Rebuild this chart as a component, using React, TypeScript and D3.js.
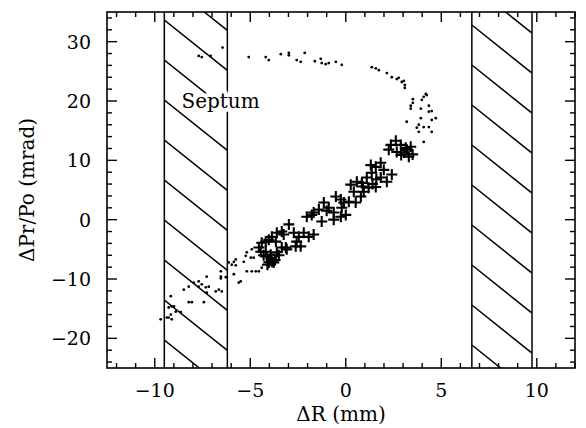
import React from 'react';
import * as d3 from 'd3';

const W = 586;
const H = 428;

// axis extents and ticks
const xDomain = [-12.5, 12];
const yDomain = [-25, 35];
const xMajor = [-10, -5, 0, 5, 10];
const yMajor = [-20, -10, 0, 10, 20, 30];

// septum / aperture limits (mm)
const bands = [
  [-9.5, -6.2],
  [6.6, 9.75],
];

// small dots (ΔR mm, ΔPr/Po mrad)
const dotX = [
  -7.7, -7.54, -7.07, -6.45, -5.08, -4.19, -4.03, -3.4, -2.98, -2.57, -2.36, -2.15, -1.62, -1.31, -1.26, -1.05, -0.89, -0.52, -0.21,
  -2.98, 1.36, 1.57, 1.73, 2.15, 2.41, 2.67, 2.77, 2.93, 3.04, 3.09, 3.09,
  3.51, 4.08, 4.19, 3.4, 3.51, 3.4, 3.98, 4.24, 3.93, 4.35, 4.5, 4.71, 3.19, 3.93, 3.82, 4.08, 4.35, 4.5, 3.72, 4.5, 3.82, 4.08, 4.35,
  -4.92, -5.18, -4.97, -5.34, -5.76, -5.97, -5.86, -5.6, -5.18, -4.92, -4.55, -6.28, -6.54, -6.54, -5.76, -5.24, -4.82, -5.5,
  -6.54, -6.65, -6.49, -6.81, -7.28, -7.17, -7.54, -7.7, -7.96, -8.22, -8.48, -7.28, -7.43, -8.22, -8.06, -9.16, -9.11, -8.9,
  -8.64, -9.16, -9.27, -9.69, -9.11, -9.37, -9.27, -9.0, -7.7, -7.33, -6.13, -5.86, -4.71, -4.4,
];
const dotY = [
  27.6, 27.4, 27.6, 29.0, 27.4, 27.4, 26.9, 27.9, 27.7, 26.9, 26.6, 28.1, 26.7, 27.1, 26.4, 26.2, 26.4, 26.6, 26.1,
  28.1, 25.7, 25.5, 25.2, 24.7, 24.0, 23.7, 23.9, 23.2, 23.4, 22.7, 22.2,
  20.3, 20.7, 21.2, 19.2, 19.7, 18.7, 20.2, 21.0, 18.7, 19.2, 18.3, 17.1, 16.5, 17.1, 16.0, 15.6, 15.6, 16.8, 15.5, 14.8, 14.8, 13.1, 18.2,
  -5.0, -5.5, -6.4, -7.1, -6.7, -7.6, -9.2, -10.6, -8.7, -8.7, -8.7, -9.7, -9.6, -8.7, -7.7, -6.1, -6.4, -10.4,
  -9.9, -11.8, -12.1, -12.1, -9.6, -11.3, -10.9, -10.4, -10.6, -11.3, -11.8, -12.3, -13.9, -13.9, -13.9, -12.9, -14.6, -15.5,
  -15.6, -16.0, -16.5, -16.8, -16.8, -16.5, -14.8, -14.6, -11.3, -11.4, -7.2, -7.1, -8.7, -8.1,
];

// crosses
const crossX = [
  2.36, 2.62, 2.88, 3.14, 3.4, 2.67, 3.04, 3.3, 2.25, 1.83, 1.57, 1.31, 1.99, 1.36, 1.1, 0.84, 2.41, 2.15, 1.83, 1.57, 1.2, 0.94,
  0.58, 0.26, 0.42, 0.79, -0.26, -0.52, 0.16, 0.52, -0.21, -1.15, -1.41, -0.89, -1.68, -0.63, -0.26, -1.78, -2.04, -0.1, 0.0,
  -1.26, -0.63, -2.98, -3.35, -3.61, -3.87, -2.72, -2.46, -2.2, -1.94, -1.68, -2.57, -2.36, -3.09, -3.35, -3.66, -4.03, -4.4,
  -4.55, -4.19, -3.93, -3.87, -4.14, -3.61, -3.77, -4.03, -4.19, -4.45, -3.25, -3.14, -2.62,
  -3.9, -4.1, -3.7, -4.3, -3.5, 3.2, 2.9, 3.5, 1.6, 1.4, 0.9, -1.0,
];
const crossY = [
  12.6, 13.3, 12.6, 12.1, 12.3, 11.4, 11.3, 10.6, 11.8, 9.6, 8.9, 9.2, 8.4, 7.9, 7.1, 6.2, 7.6, 6.4, 7.1, 5.5, 5.4, 4.7,
  6.4, 5.9, 4.7, 3.9, 3.4, 3.9, 3.0, 2.9, 2.0, 2.9, 1.7, 2.0, 1.2, 1.2, 0.5, 0.8, 0.5, 2.9, 0.8,
  -0.3, 0.0, -0.8, -2.0, -2.2, -2.9, -2.2, -2.9, -2.2, -2.9, -2.5, -3.7, -4.5, -5.0, -4.7, -3.7, -3.4, -3.9,
  -4.7, -5.4, -5.9, -7.1, -6.2, -5.5, -7.2, -7.2, -3.7, -5.4, -2.5, -4.7, -4.5,
  -6.5, -7.6, -6.8, -6.0, -6.0, 11.8, 10.9, 11.0, 6.8, 6.0, 5.6, 1.5,
];

const septumLabel = { x: -8.6, y: 18.8, text: 'Septum' };

const font = '"DejaVu Serif", "Liberation Serif", serif';
const fmt = (d: number) => (d < 0 ? '\u2212' : '') + Math.abs(d);

export default function App() {
  const m = { left: 107, right: 11, top: 12, bottom: 60 };
  const x = d3.scaleLinear().domain(xDomain).range([m.left, W - m.right]);
  const y = d3.scaleLinear().domain(yDomain).range([H - m.bottom, m.top]);
  const [x0, x1] = x.range();
  const [y0, y1] = [y.range()[1], y.range()[0]];

  const xMinor = d3.range(Math.ceil(xDomain[0]), xDomain[1] + 0.001, 1).filter(v => !xMajor.includes(v));
  const yMinor = d3.range(-24, 35, 2).filter(v => !yMajor.includes(v));

  // hatch lines, slope and spacing in px
  const slope = 0.8;
  const gap = 40;
  const hatch = (b: number[], offs: number) => {
    const bl = x(b[0]);
    const br = x(b[1]);
    const lines = [];
    for (let c = offs - gap * 2; c < y1 + gap; c += gap) {
      lines.push([bl, c, br, c + slope * (br - bl)]);
    }
    return { bl, br, lines };
  };
  const hatches = [hatch(bands[0], 20), hatch(bands[1], 25)];

  const MAJ = 10;
  const MIN = 5;

  return (
    <svg width={W} height={H} style={{ position: 'absolute', left: 0, top: 0, background: '#fff' }}
      fontFamily={font}>
      <defs>
        <clipPath id="plot">
          <rect x={x0} y={y0} width={x1 - x0} height={y1 - y0} />
        </clipPath>
      </defs>

      {/* hatched septum bands */}
      {hatches.map((h, i) => (
        <g key={i} stroke="#000" fill="none">
          <clipPath id={`band${i}`}>
            <rect x={h.bl} y={y0} width={h.br - h.bl} height={y1 - y0} />
          </clipPath>
          <g clipPath={`url(#band${i})`} strokeWidth={1.5}>
            {h.lines.map((l, j) => (
              <line key={j} x1={l[0]} y1={l[1]} x2={l[2]} y2={l[3]} />
            ))}
          </g>
          <line x1={h.bl} x2={h.bl} y1={y0} y2={y1} strokeWidth={1.5} />
          <line x1={h.br} x2={h.br} y1={y0} y2={y1} strokeWidth={1.5} />
        </g>
      ))}

      <text x={x(septumLabel.x)} y={y(septumLabel.y)} fontSize={20} fill="#000"
        stroke="#fff" strokeWidth={8} paintOrder="stroke" strokeLinejoin="round">
        {septumLabel.text}
      </text>

      {/* data */}
      <g clipPath="url(#plot)">
        {dotX.map((d, i) => (
          <circle key={i} cx={x(d)} cy={y(dotY[i])} r={1.4} fill="#000" />
        ))}
        <g stroke="#000" strokeWidth={2.1}>
          {crossX.map((d, i) => {
            const cx = x(d);
            const cy = y(crossY[i]);
            return (
              <path key={i} d={`M${cx - 5.5},${cy}H${cx + 5.5}M${cx},${cy - 5.5}V${cy + 5.5}`} />
            );
          })}
        </g>
      </g>

      {/* frame and ticks */}
      <rect x={x0} y={y0} width={x1 - x0} height={y1 - y0} fill="none" stroke="#000" strokeWidth={1.6} />
      <g stroke="#000" strokeWidth={1.4}>
        {xMajor.map(v => (
          <g key={'xm' + v}>
            <line x1={x(v)} x2={x(v)} y1={y1} y2={y1 - MAJ} />
            <line x1={x(v)} x2={x(v)} y1={y0} y2={y0 + MAJ} />
          </g>
        ))}
        {xMinor.map(v => (
          <g key={'xn' + v}>
            <line x1={x(v)} x2={x(v)} y1={y1} y2={y1 - MIN} />
            <line x1={x(v)} x2={x(v)} y1={y0} y2={y0 + MIN} />
          </g>
        ))}
        {yMajor.map(v => (
          <g key={'ym' + v}>
            <line x1={x0} x2={x0 + MAJ} y1={y(v)} y2={y(v)} />
            <line x1={x1} x2={x1 - MAJ} y1={y(v)} y2={y(v)} />
          </g>
        ))}
        {yMinor.map(v => (
          <g key={'yn' + v}>
            <line x1={x0} x2={x0 + MIN} y1={y(v)} y2={y(v)} />
            <line x1={x1} x2={x1 - MIN} y1={y(v)} y2={y(v)} />
          </g>
        ))}
      </g>

      {/* tick labels */}
      <g fontSize={19} fill="#000">
        {xMajor.map(v => (
          <text key={'xl' + v} x={x(v)} y={y1 + 29} textAnchor="middle">{fmt(v)}</text>
        ))}
        {yMajor.map(v => (
          <text key={'yl' + v} x={x0 - 16} y={y(v)} dy="0.36em" textAnchor="end">{fmt(v)}</text>
        ))}
      </g>

      {/* axis titles */}
      <text x={(x0 + x1) / 2} y={421} textAnchor="middle" fontSize={20} fill="#000">ΔR (mm)</text>
      <text transform={`translate(34,${(y0 + y1) / 2}) rotate(-90)`} textAnchor="middle" fontSize={20} fill="#000">
        ΔPr/Po (mrad)
      </text>
    </svg>
  );
}
